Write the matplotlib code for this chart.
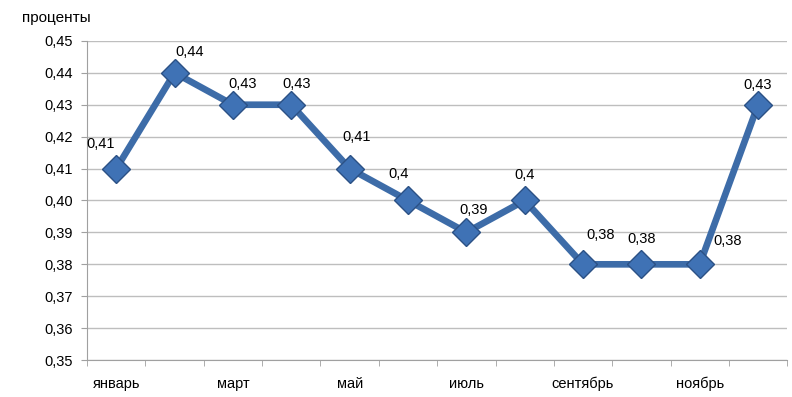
import matplotlib.pyplot as plt
from matplotlib.ticker import FixedLocator, FuncFormatter

months = ['январь', 'февраль', 'март', 'апрель', 'май', 'июнь',
          'июль', 'август', 'сентябрь', 'октябрь', 'ноябрь', 'декабрь']
values = [0.41, 0.44, 0.43, 0.43, 0.41, 0.40, 0.39, 0.40, 0.38, 0.38, 0.38, 0.43]
point_labels = ['0,41', '0,44', '0,43', '0,43', '0,41', '0,4',
                '0,39', '0,4', '0,38', '0,38', '0,38', '0,43']

# label offsets in points (dx, dy), tuned by eye
offsets = [(-11, 18), (11, 15), (7, 15), (4, 15), (5, 23), (-7, 19),
           (5, 16), (0, 18), (13, 21), (0, 18), (20, 17), (0, 14)]

plt.rcParams['font.family'] = ['Liberation Sans', 'DejaVu Sans']

fig = plt.figure(figsize=(7.92, 3.97), dpi=100)
ax = fig.add_axes([0.110, 0.093, 0.884, 0.804])

x = list(range(len(months)))
ax.plot(x, values, color='#3D6CA8', lw=4.8, marker='D', markersize=14,
        markerfacecolor='#3F72B5', markeredgecolor='#2B5185', markeredgewidth=1, zorder=3)

for xi, v, lab, (dx, dy) in zip(x, values, point_labels, offsets):
    ax.annotate(lab, (xi, v), xytext=(dx, dy), textcoords='offset points',
                ha='center', va='center', fontsize=10.5, color='black')

ax.set_xlim(-0.5, 11.5)
ax.set_ylim(0.35, 0.45)
ax.set_yticks([0.35 + 0.01 * i for i in range(11)])
ax.yaxis.set_major_formatter(FuncFormatter(lambda v, p: f'{v:.2f}'.replace('.', ',')))
ax.set_xticks(x[::2])
ax.set_xticklabels(months[::2])
ax.xaxis.set_minor_locator(FixedLocator([i - 0.5 for i in range(13)]))
ax.tick_params(axis='x', which='major', length=0, pad=12, labelsize=10.5)
ax.tick_params(axis='x', which='minor', length=4, color='#A0A0A0')
ax.tick_params(axis='y', length=4, color='#A0A0A0', labelsize=10.5, pad=6)

ax.grid(axis='y', color='#BEBEBE', lw=1)
ax.set_axisbelow(True)
for s in ['top', 'right']:
    ax.spines[s].set_visible(False)
ax.spines['left'].set_color('#A0A0A0')
ax.spines['bottom'].set_color('#A0A0A0')

fig.text(0.071, 0.955, 'проценты', ha='center', va='center', fontsize=11)

fig.savefig('out.png', dpi=100)
